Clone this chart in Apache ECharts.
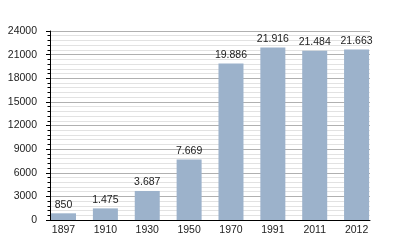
<!DOCTYPE html>
<html><head><meta charset="utf-8">
<script src="https://cdn.jsdelivr.net/npm/echarts@6/dist/echarts.min.js"></script>
<style>html,body{margin:0;padding:0;background:#fff}#c{width:400px;height:250px}</style>
</head><body><div id="c"></div>
<script>
const categories = ['1897','1910','1930','1950','1970','1991','2011','2012'];
const population = [850, 1475, 3687, 7669, 19886, 21916, 21484, 21663];
const yTicks = [0, 3000, 6000, 9000, 12000, 15000, 18000, 21000, 24000];

function fmt(v){ return String(v).replace(/\B(?=(\d{3})+(?!\d))/g, '.'); }

const chart = echarts.init(document.getElementById('c'), null, {renderer:'canvas'});
const font = {fontFamily:'Liberation Sans, Arial, sans-serif', fontSize:10.5, color:'#222'};
chart.setOption({
  animation:false,
  backgroundColor:'#fff',
  grid:[
    {left:50, top:31, width:320, height:189},
    {left:42.6, top:31, width:334.9, height:189}
  ],
  xAxis:[
    {gridIndex:0, type:'category', data:categories, axisLine:{lineStyle:{color:'#000', width:1}}, axisTick:{show:false}, axisLabel:{show:false}},
    {gridIndex:1, type:'category', data:categories, axisLine:{show:false}, axisTick:{show:false},
     axisLabel:Object.assign({margin:5}, font)}
  ],
  yAxis:[
    {gridIndex:0, type:'value', min:yTicks[0], max:yTicks[yTicks.length-1], interval:3000,
     axisLine:{show:true, lineStyle:{color:'#000'}},
     axisTick:{show:true, length:4, lineStyle:{color:'#000'}},
     minorTick:{show:true, splitNumber:5, length:2.5, lineStyle:{color:'#000'}},
     splitLine:{show:true, lineStyle:{color:'#b0b0b0', width:1}},
     minorSplitLine:{show:true, lineStyle:{color:'#e2e2e2', width:1}},
     axisLabel:Object.assign({margin:13, formatter:v=>String(v)}, font)},
    {gridIndex:1, type:'value', min:yTicks[0], max:yTicks[yTicks.length-1], show:false, splitLine:{show:false}}
  ],
  series:[{
    type:'bar', xAxisIndex:1, yAxisIndex:1, data:population, barWidth:25,
    itemStyle:{color:'#9cb2cb'},
    label:Object.assign({show:true, position:'top', distance:3, formatter:p=>fmt(p.value)}, font)
  }]
});
</script></body></html>
